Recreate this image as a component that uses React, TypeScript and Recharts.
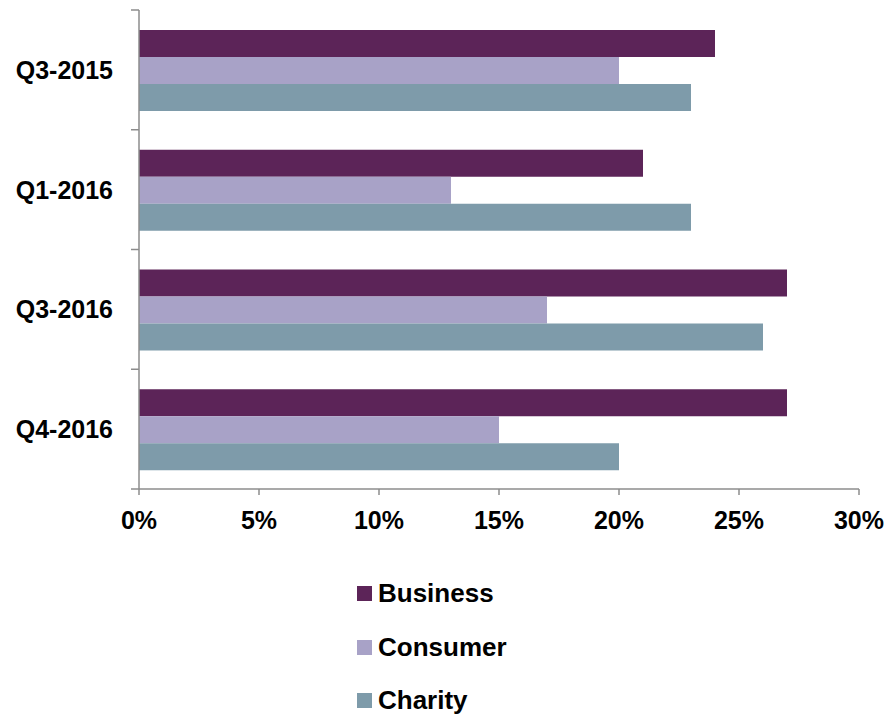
import React from 'react';
import { BarChart, Bar, XAxis, YAxis, Legend } from 'recharts';

const quarters = ['Q3-2015', 'Q1-2016', 'Q3-2016', 'Q4-2016'];
const business = [24, 21, 27, 27];
const consumer = [20, 13, 17, 15];
const charity = [23, 23, 26, 20];
const xTicks = [0, 5, 10, 15, 20, 25, 30];

const series = [
  { key: 'Business', color: '#5C2458' },
  { key: 'Consumer', color: '#A8A2C7' },
  { key: 'Charity', color: '#7E9BAA' },
];

const data = quarters.map((q, i) => ({
  quarter: q,
  Business: business[i],
  Consumer: consumer[i],
  Charity: charity[i],
}));

const W = 889;
const H = 715;
const TOP = 10;
const X_AXIS_H = 40;
const LEGEND_H = 186;
const PLOT_H = H - TOP - X_AXIS_H - LEGEND_H;
const BAND = PLOT_H / quarters.length;
const AXIS = '#8c8c8c';
const font = { fontFamily: 'Liberation Sans, Arial, sans-serif', fontWeight: 'bold' as const };

const YTick = (props: any) => {
  const { x, y, payload, index } = props;
  const ax = x + 26;
  return (
    <g>
      <line x1={ax - 8} x2={ax} y1={y - BAND / 2} y2={y - BAND / 2} stroke={AXIS} strokeWidth={1.5} />
      {index === quarters.length - 1 && (
        <line x1={ax - 8} x2={ax} y1={y + BAND / 2} y2={y + BAND / 2} stroke={AXIS} strokeWidth={1.5} />
      )}
      <text x={x} y={y} textAnchor="end" dominantBaseline="central" fontSize={25} fill="#000" {...font}>
        {payload.value}
      </text>
    </g>
  );
};

const LegendBox = () => (
  <div style={{ height: LEGEND_H, paddingLeft: 357, paddingTop: 38, boxSizing: 'border-box' }}>
    {series.map((s) => (
      <div key={s.key} style={{ height: 53.5, display: 'flex', alignItems: 'center' }}>
        <span style={{ width: 15, height: 15, background: s.color, display: 'inline-block', marginRight: 6 }} />
        <span style={{ fontSize: 26, color: '#000', ...font }}>{s.key}</span>
      </div>
    ))}
  </div>
);

export default function App() {
  return (
    <div style={{ position: 'absolute', left: 0, top: 0, background: '#fff' }}>
      <BarChart
        width={W}
        height={H}
        data={data}
        layout="vertical"
        margin={{ top: TOP, right: 30, bottom: 0, left: 0 }}
        barCategoryGap="16.7%"
        barGap={0}
      >
        <XAxis
          type="number"
          domain={[0, 30]}
          ticks={xTicks}
          tickFormatter={(v) => `${v}%`}
          height={X_AXIS_H}
          stroke={AXIS}
          strokeWidth={1.5}
          tickSize={6}
          tickMargin={16}
          tick={{ fill: '#000', fontSize: 25, ...font }}
          interval={0}
        />
        <YAxis
          type="category"
          dataKey="quarter"
          width={139}
          stroke={AXIS}
          strokeWidth={1.5}
          tickLine={false}
          tickSize={8}
          tickMargin={18}
          tick={<YTick />}
          interval={0}
        />
        {series.map((s) => (
          <Bar key={s.key} dataKey={s.key} fill={s.color} isAnimationActive={false} />
        ))}
        <Legend
          verticalAlign="bottom"
          content={<LegendBox />}
          wrapperStyle={{ left: 0, width: W, height: LEGEND_H }}
        />
      </BarChart>
    </div>
  );
}
